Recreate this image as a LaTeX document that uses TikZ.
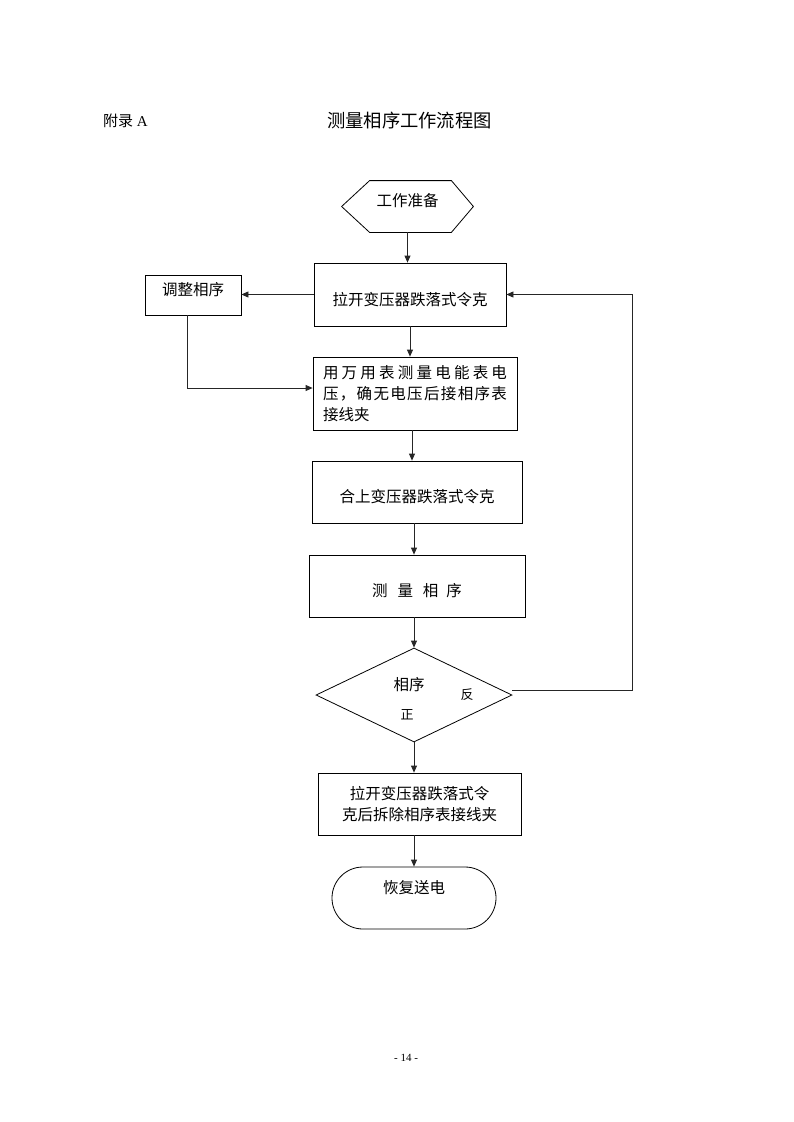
\documentclass[tikz,border=0pt]{standalone}
\usepackage{fontspec}
\setmainfont{Liberation Serif}
\newfontfamily\cjk{Noto Sans CJK SC}
\usetikzlibrary{arrows.meta,shapes.geometric,shapes.misc}
\newcommand{\shiftt}[2]{\raisebox{#1}[\height][\depth]{#2}}
\tikzset{
  box/.style={draw, line width=0.8pt, inner sep=2pt, font=\cjk\fontsize{15.5}{18}\selectfont},
  conn/.style={line width=0.8pt, draw=black!85},
  arr/.style={conn, -{Triangle[length=7pt,width=6pt]}},
  lbl/.style={inner sep=0pt, font=\cjk\fontsize{15.5}{18}\selectfont},
  small/.style={inner sep=0pt, font=\cjk\fontsize{13}{15}\selectfont}
}
\begin{document}
\begin{tikzpicture}[x=1pt,y=-1pt]
\useasboundingbox (0,0) rectangle (793,1122);
% header
\node[inner sep=0pt, anchor=west, font=\fontsize{15}{18}\selectfont] (app) at (103,121) {{\cjk 附录} A};
\node[inner sep=0pt, font=\cjk\fontsize{18.3}{22}\selectfont] (title) at (409.5,121) {测量相序工作流程图};
% hexagon start
\node[box, draw=none, minimum width=131pt, minimum height=51pt] (prep) at (407.5,206.5) {\shiftt{6pt}{工作准备}};
\draw[line width=0.8pt] (prep.west) -- ([xshift=28pt]prep.north west) -- ([xshift=-22pt]prep.north east) -- (prep.east) -- ([xshift=-22pt]prep.south east) -- ([xshift=28pt]prep.south west) -- cycle;
% boxes
\node[box, minimum width=192pt, minimum height=63pt] (b1) at (410,294.5) {\shiftt{-5pt}{拉开变压器跌落式令克}};
\node[box, minimum width=96pt, minimum height=40pt] (adj) at (193,295) {\shiftt{5pt}{调整相序}};
\node[box, minimum width=204pt, minimum height=73pt] (b2) at (415,393.5) {\vbox{\baselineskip=21pt
  \hbox to 184pt{用\hfill 万\hfill 用\hfill 表\hfill 测\hfill 量\hfill 电\hfill 能\hfill 表\hfill 电}
  \hbox to 184pt{压\hfill ，\hfill 确\hfill 无\hfill 电\hfill 压\hfill 后\hfill 接\hfill 相\hfill 序\hfill 表}
  \hbox to 184pt{接线夹\hfill}}};
\node[box, minimum width=210pt, minimum height=62pt] (b3) at (417,492) {\shiftt{-5pt}{合上变压器跌落式令克}};
\node[box, minimum width=216pt, minimum height=62pt] (b4) at (417,586) {\shiftt{-5pt}{测\hspace{10pt}量\hspace{10pt}相\hspace{8pt}序}};
\node[draw, line width=0.8pt, diamond, aspect=2.08, minimum width=196pt, minimum height=94pt, inner sep=0pt] (dia) at (414,695) {};
\node[lbl] (dtxt) at (409,685) {相序};
\node[small] (fan) at (467,695) {反};
\node[small] (zheng) at (407,715) {正};
\node[box, minimum width=203pt, minimum height=62pt] (b5) at (419.5,804) {\vbox{\baselineskip=21pt
  \hbox to 160pt{\hfill 拉开变压器跌落式令\hfill}
  \hbox to 160pt{\hfill 克后拆除相序表接线夹\hfill}}};
\node[box, rounded rectangle, minimum width=168pt, minimum height=62pt] (end) at (414,898) {\shiftt{10pt}{恢复送电}};
% page number
\node[inner sep=0pt, font=\fontsize{11}{13}\selectfont] (page) at (406,1058) {- 14 -};
% connectors
\draw[arr] (prep.south) -- (prep.south |- b1.north);
\draw[arr] (b1.west) -- (b1.west -| adj.east);
\draw[arr] ([xshift=-6pt]adj.south) |- ([yshift=5.5pt]b2.west);
\draw[arr] (b1.south) -- (b1.south |- b2.north);
\draw[arr] ([xshift=-3pt]b2.south) -- ([xshift=-3pt]b2.south |- b3.north);
\draw[arr] ([xshift=-3pt]b3.south) -- ([xshift=-3pt]b3.south |- b4.north);
\draw[arr] ([xshift=-3pt]b4.south) -- (dia.north);
\draw[arr] (dia.south) -- (dia.south |- b5.north);
\draw[arr] ([xshift=-5.5pt]b5.south) -- (end.north);
\coordinate (rc) at (632,690);
\draw[arr] ([yshift=5pt]dia.east) -- (rc) |- (b1.east);
\end{tikzpicture}
\end{document}
